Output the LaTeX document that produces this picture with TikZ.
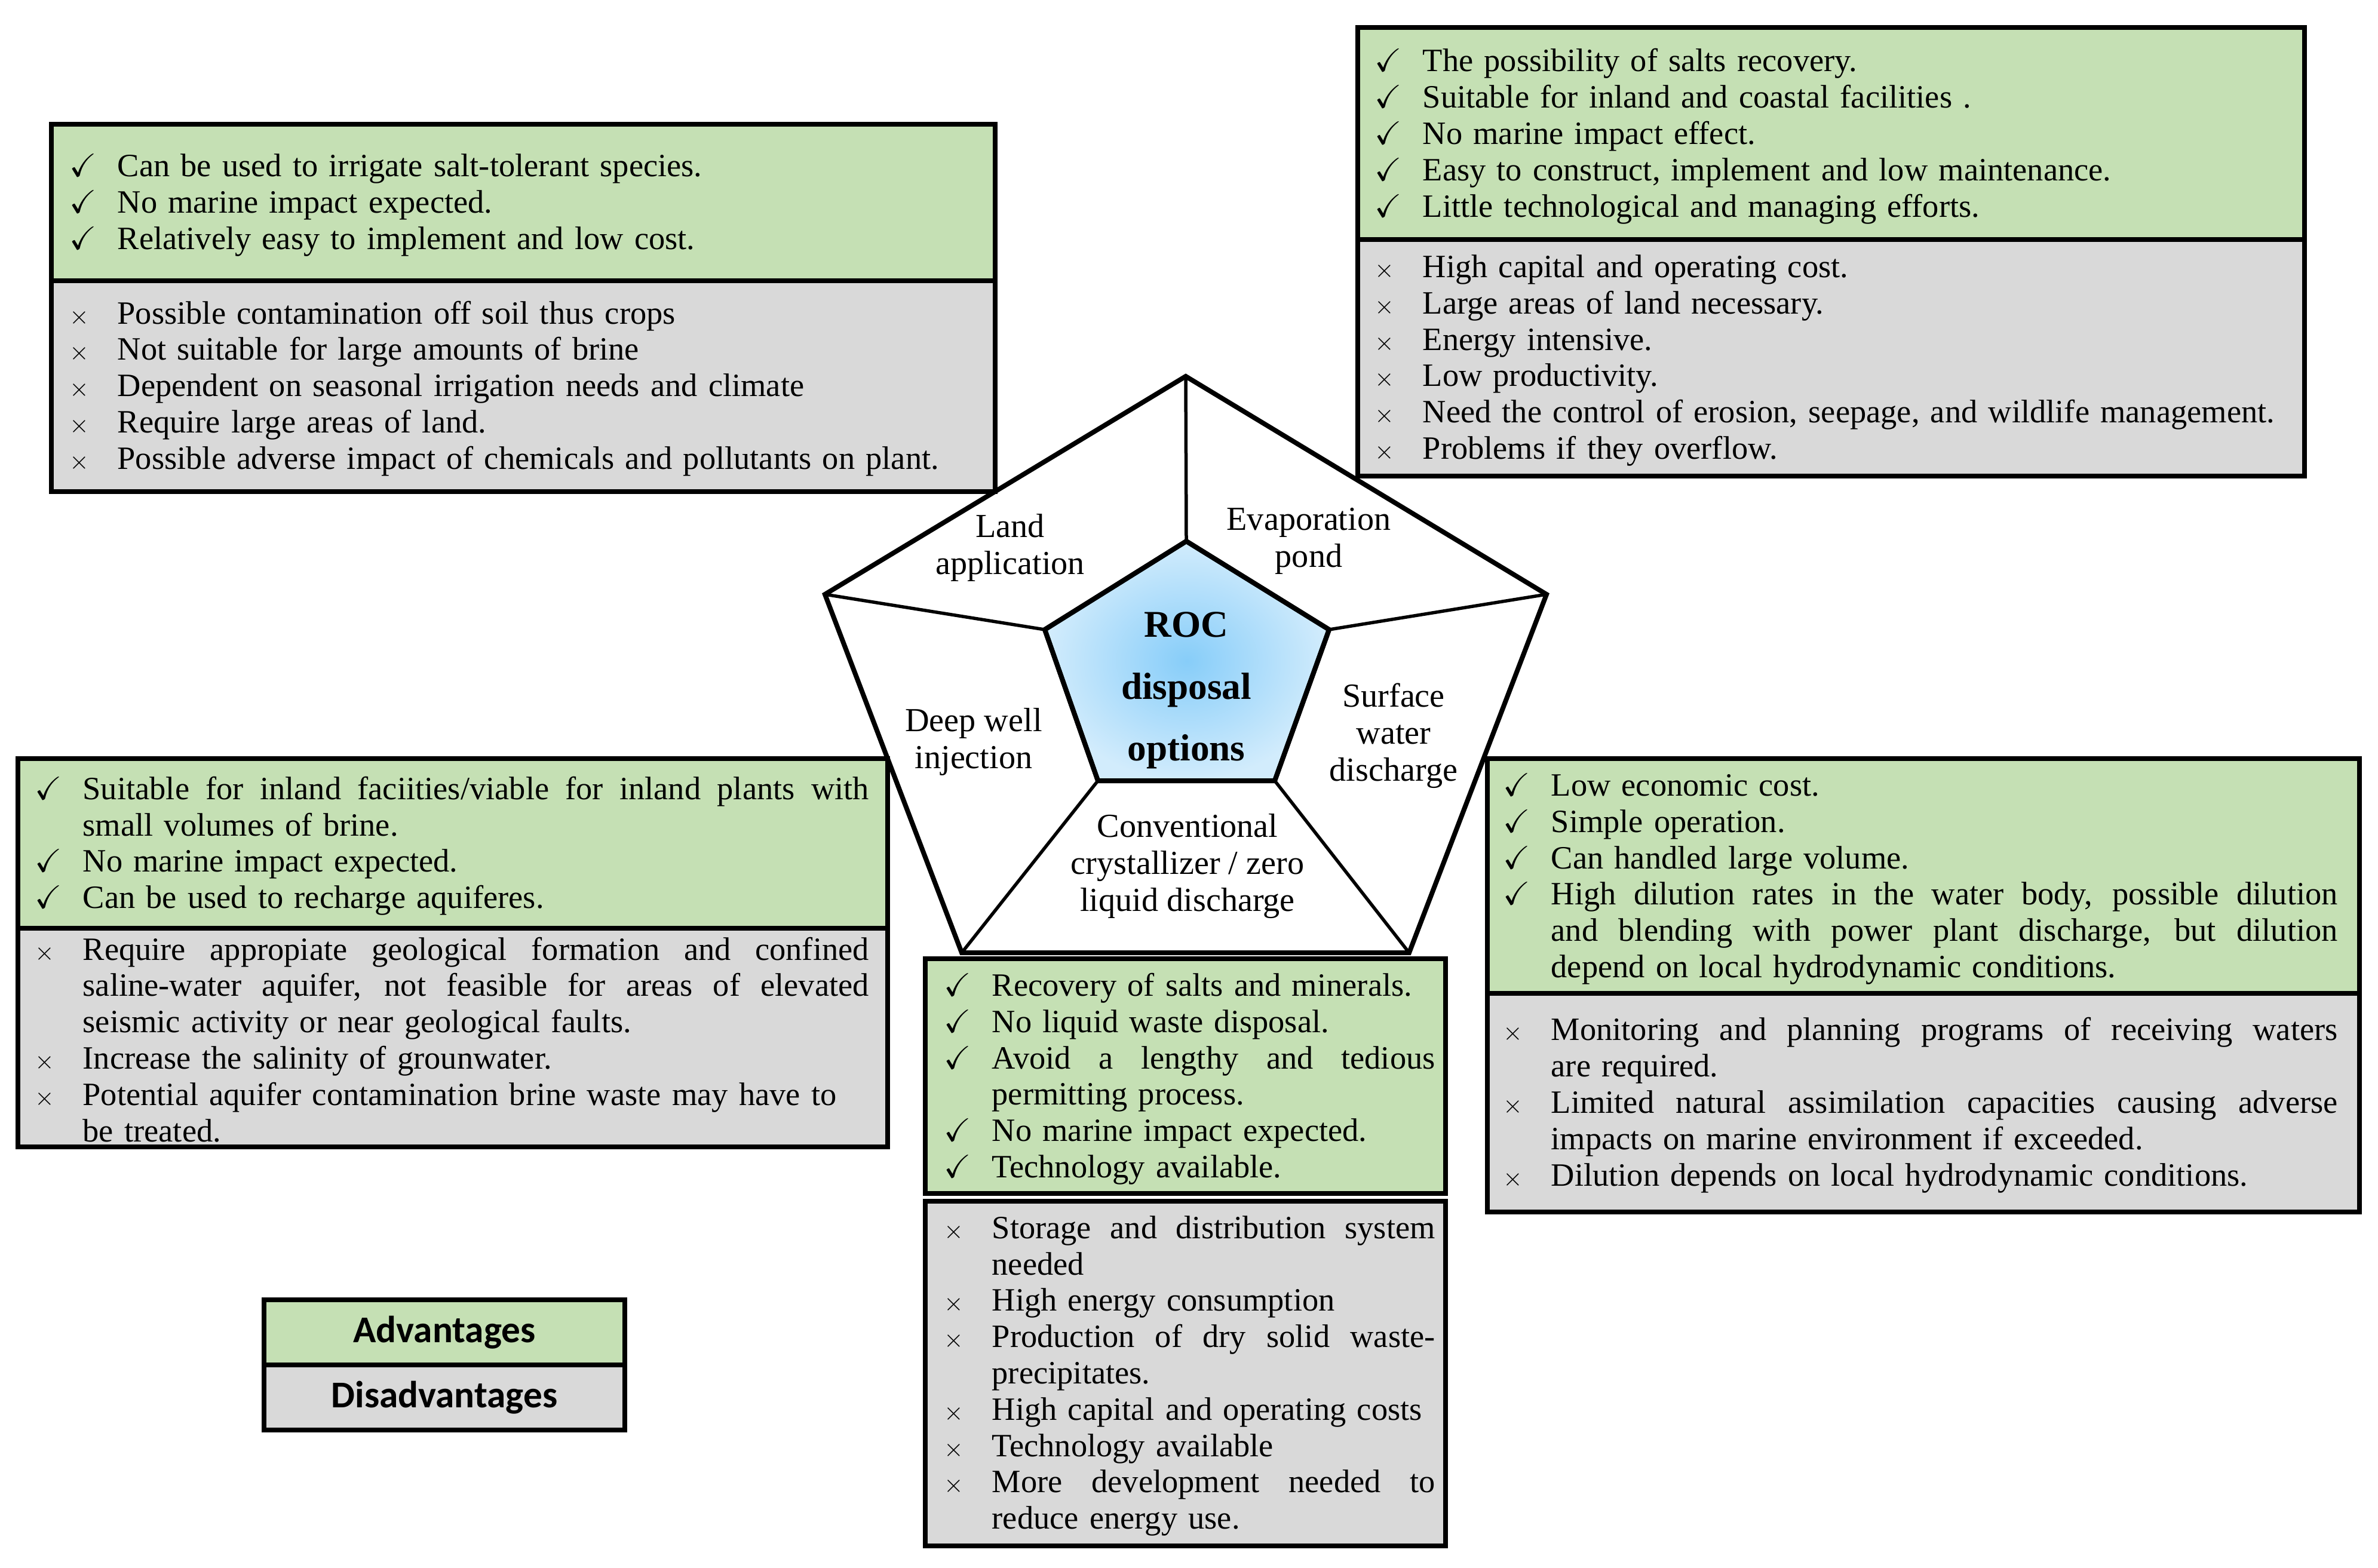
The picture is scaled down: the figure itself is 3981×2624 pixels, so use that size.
\documentclass[tikz,border=0pt]{standalone}
\usepackage{amssymb}
\usepackage{fontspec}
\setmainfont{Liberation Serif}
\newfontfamily\legendfont{Carlito}

\definecolor{advgreen}{RGB}{197,224,180}
\definecolor{disgray}{RGB}{217,217,217}
\definecolor{rocin}{RGB}{135,205,249}
\definecolor{rocout}{RGB}{210,236,252}

\newlength\bulgap
\setlength\bulgap{8mm}
\newlength\colw
\newcommand\boxfont{\fontsize{15.5pt}{17.3pt}\selectfont\hyphenpenalty=10000\exhyphenpenalty=10000}
\newcommand\optfont{\fontsize{16pt}{17.6pt}\selectfont}
\newcommand\yes{\par\hangindent\bulgap\hangafter1\noindent\makebox[\bulgap][l]{$\checkmark$}}
\newcommand\nay{\par\hangindent\bulgap\hangafter1\noindent\makebox[\bulgap][l]{\fontsize{13pt}{13pt}\selectfont$\times$}}
\newcommand\jl[1]{\makebox[\colw][s]{\spaceskip=\fontdimen2\font plus 1em\relax #1}\newline}

\tikzset{
  rim/.style={line width=0.8mm, line join=miter},
  spoke/.style={line width=0.55mm},
  advbox/.style={draw, line width=0.8mm, fill=advgreen},
  disbox/.style={draw, line width=0.8mm, fill=disgray},
  lst/.style={anchor=west, inner sep=0pt, align=left, font=\boxfont, text width=#1,
    execute at begin node={\setlength\colw{\dimexpr#1-\bulgap\relax}}},
  opt/.style={align=center, inner sep=0pt, font=\optfont},
  legend/.style={inner sep=0pt, font={\legendfont\fontsize{18pt}{21pt}\selectfont\bfseries}},
}

\begin{document}
\begin{tikzpicture}[x=0.1mm,y=-0.1mm]%[px]
\fill[white] (0,0) rectangle (3981,2624);
\useasboundingbox (0,0) rectangle (3981,2624);

% pentagon
\coordinate (o1) at (1985,630);
\coordinate (o2) at (2589,995);
\coordinate (o3) at (2359,1595);
\coordinate (o4) at (1610,1595);
\coordinate (o5) at (1381,995);
\coordinate (i1) at (1986,906);
\coordinate (i2) at (2225,1054);
\coordinate (i3) at (2134,1307);
\coordinate (i4) at (1838,1307);
\coordinate (i5) at (1749,1054);

\draw[rim, fill=white] (o1) -- (o2) -- (o3) -- (o4) -- (o5) -- cycle;
\foreach \k in {1,...,5}
  \draw[spoke] (o\k) -- (i\k);
\draw[rim, inner color=rocin, outer color=rocout] (i1) -- (i2) -- (i3) -- (i4) -- (i5) -- cycle;
\draw[rim] (i1) -- (i2) -- (i3) -- (i4) -- (i5) -- cycle;

\node[opt] (land) at (1691,917) {Land\\application};
\node[opt] (evap) at (2191,906) {Evaporation\\pond};
\node[opt] (deep) at (1630,1242) {Deep well\\injection};
\node[opt] (surf) at (2333,1232) {Surface\\water\\discharge};
\node[opt] (zld) at (1988,1450) {Conventional\\crystallizer / zero\\liquid discharge};
\node[align=center, inner sep=0pt, font={\fontsize{18pt}{29.5pt}\selectfont\bfseries}] (roc) at (1986,1156) {ROC\\disposal\\options};

% land application
\draw[advbox] (86,208) rectangle (1666,470);
\draw[disbox] (86,470) rectangle (1666,823);
\node[lst=151.4mm] (landpro) at (116,332) {%
\yes Can be used to irrigate salt-tolerant species.
\yes No marine impact expected.
\yes Relatively easy to implement and low cost.\par};
\node[lst=151.4mm] (landcon) at (116,639) {%
\nay Possible contamination off soil thus crops
\nay Not suitable for large amounts of brine
\nay Dependent on seasonal irrigation needs and climate
\nay Require large areas of land.
\nay Possible adverse impact of chemicals and pollutants on plant.\par};

% evaporation pond
\draw[advbox] (2273,46) rectangle (3858,401);
\draw[disbox] (2273,401) rectangle (3858,797);
\node[lst=156mm] (evappro) at (2301,217) {%
\yes The possibility of salts recovery.
\yes Suitable for inland and coastal facilities .
\yes No marine impact effect.
\yes Easy to construct, implement and low maintenance.
\yes Little technological and managing efforts.\par};
\node[lst=156mm] (evapcon) at (2301,592) {%
\nay High capital and operating cost.
\nay Large areas of land necessary.
\nay Energy intensive.
\nay Low productivity.
\nay Need the control of erosion, seepage, and wildlife management.
\nay Problems if they overflow.\par};

% deep well injection
\draw[advbox] (30,1270) rectangle (1486,1554);
\draw[disbox] (30,1554) rectangle (1486,1920);
\node[lst=139.6mm] (deeppro) at (58,1405) {%
\yes\jl{Suitable for inland faciities/viable for inland plants with}small volumes of brine.
\yes No marine impact expected.
\yes Can be used to recharge aquiferes.\par};
\node[lst=139.6mm] (deepcon) at (58,1729) {%
\nay\jl{Require appropiate geological formation and confined}\jl{saline-water aquifer, not feasible for areas of elevated}seismic activity or near geological faults.
\nay Increase the salinity of grounwater.
\nay Potential aquifer contamination brine waste may have to\newline be treated.\par};

% surface water discharge
\draw[advbox] (2490,1270) rectangle (3950,1663);
\draw[disbox] (2490,1663) rectangle (3950,2029);
\node[lst=139.7mm] (surfpro) at (2516,1460) {%
\yes Low economic cost.
\yes Simple operation.
\yes Can handled large volume.
\yes\jl{High dilution rates in the water body, possible dilution}\jl{and blending with power plant discharge, but dilution}depend on local hydrodynamic conditions.\par};
\node[lst=139.7mm] (surfcon) at (2516,1839) {%
\nay\jl{Monitoring and planning programs of receiving waters}are required.
\nay\jl{Limited natural assimilation capacities causing adverse}impacts on marine environment if exceeded.
\nay Dilution depends on local hydrodynamic conditions.\par};

% zero liquid discharge
\draw[advbox] (1549,1605) rectangle (2420,1998);
\draw[disbox] (1549,2011) rectangle (2420,2588);
\node[lst=82.2mm] (zldpro) at (1580,1795) {%
\yes Recovery of salts and minerals.
\yes No liquid waste disposal.
\yes\jl{Avoid a lengthy and tedious}permitting process.
\yes No marine impact expected.
\yes Technology available.\par};
\node[lst=82.2mm] (zldcon) at (1580,2292) {%
\nay\jl{Storage and distribution system}needed
\nay High energy consumption
\nay\jl{Production of dry solid waste-}precipitates.
\nay High capital and operating costs
\nay Technology available
\nay\jl{More development needed to}reduce energy use.\par};

% legend
\draw[advbox] (442,2176) rectangle (1046,2285);
\draw[disbox] (442,2285) rectangle (1046,2394);
\node[legend] (adv) at (744,2231) {Advantages};
\node[legend] (dis) at (744,2340) {Disadvantages};
\end{tikzpicture}
\end{document}
